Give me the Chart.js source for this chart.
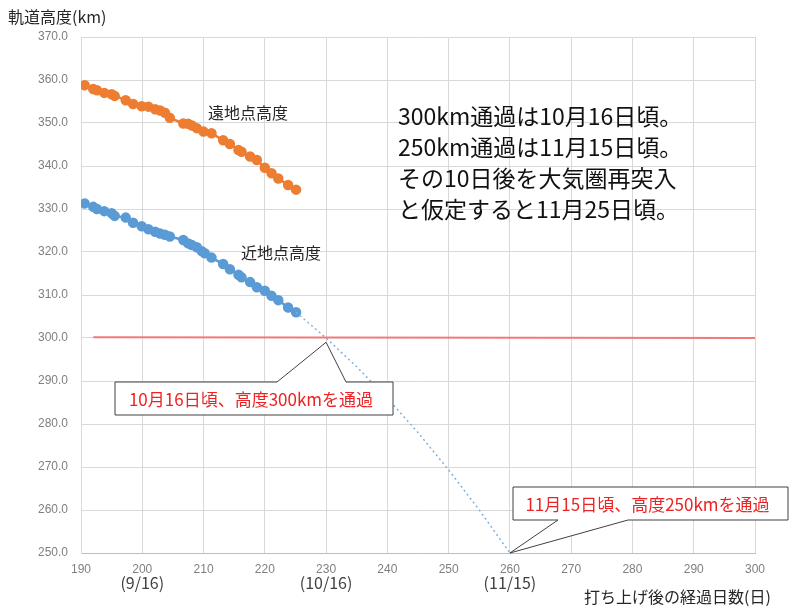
<!DOCTYPE html>
<html>
<head>
<meta charset="utf-8">
<script src="https://cdn.jsdelivr.net/npm/chart.js@4.4.0/dist/chart.umd.min.js"></script>
<style>
  html, body { margin: 0; padding: 0; background: #fff; }
</style>
</head>
<body>
<canvas id="chart" width="800" height="615"></canvas>
<script>
// 遠地点高度 (apogee)
const apogeeDays = [190.6, 192.0, 192.6, 193.8, 195.0, 195.5, 197.3, 198.5, 199.9, 201.0, 202.1, 202.9, 203.7, 204.5, 206.7, 207.5, 208.1, 208.9, 210.0, 211.3, 213.2, 214.3, 215.7, 216.2, 217.6, 218.7, 220.0, 221.1, 222.2, 223.8, 225.1]
const apogeeKm = [358.8, 357.9, 357.6, 357.0, 356.7, 356.3, 355.3, 354.4, 353.9, 353.8, 353.2, 352.9, 352.4, 351.2, 349.9, 349.8, 349.4, 348.8, 348.0, 347.6, 346.0, 345.1, 343.7, 343.3, 342.2, 341.4, 339.6, 338.3, 337.1, 335.6, 334.5]

// 近地点高度 (perigee)
const perigeeDays = [190.6, 192.0, 192.6, 193.8, 195.0, 195.5, 197.3, 198.5, 199.9, 201.0, 202.1, 202.9, 203.7, 204.5, 206.7, 207.5, 208.1, 208.9, 209.7, 210.2, 211.3, 213.2, 214.3, 215.7, 216.2, 217.6, 218.7, 220.0, 221.1, 222.2, 223.8, 225.1]
const perigeeKm = [331.3, 330.5, 330.0, 329.5, 329.0, 328.4, 328.0, 326.8, 326.0, 325.3, 324.7, 324.3, 324.0, 323.6, 322.8, 322.0, 321.6, 321.1, 320.2, 319.7, 318.7, 317.2, 316.0, 314.7, 314.1, 313.0, 311.8, 311.0, 309.8, 308.8, 307.1, 306.0]

// 近地点の予測線 (dotted)
const trendDays = [225.1, 230, 235, 240, 245, 250, 255, 260]
const trendKm = [306.0, 300.0, 293.3, 286.0, 278.0, 269.3, 260.0, 250.0]

// 300km 基準線
const refDays = [192, 300]
const refKm = [300.2, 300.0]

const xTicks = [190, 200, 210, 220, 230, 240, 250, 260, 270, 280, 290, 300]
const dateTicks = [200, 230, 260]
const dateLabels = ['(9/16)', '(10/16)', '(11/15)']

const noteLines = ['300km通過は10月16日頃。', '250km通過は11月15日頃。', 'その10日後を大気圏再突入', 'と仮定すると11月25日頃。']
const callouts = [
  { text: '10月16日頃、高度300kmを通過', day: 230, km: 299, box: [115, 382, 393, 415], base: [277, 346], side: 'top' },
  { text: '11月15日頃、高度250kmを通過', day: 260, km: 250, box: [513, 487, 788, 520], base: [558, 628], side: 'bottom' },
]

const JP = '"Noto Sans CJK JP", sans-serif'
const pts = (xs, ys) => xs.map((x, i) => ({ x, y: ys[i] }))

// 文字と吹き出し
const overlay = {
  id: 'overlay',
  afterDatasetsDraw(chart) {
    const ctx = chart.ctx
    const xs = chart.scales.x, ys = chart.scales.y
    ctx.save()

    ctx.fillStyle = '#262626'
    ctx.font = '16px ' + JP
    ctx.textBaseline = 'middle'
    ctx.textAlign = 'left'
    ctx.fillText('軌道高度(km)', 8, 17)
    ctx.fillText('打ち上げ後の経過日数(日)', 584, 597)

    ctx.font = '16px ' + JP
    ctx.fillText('遠地点高度', 208, 113)
    ctx.fillText('近地点高度', 241, 253)

    ctx.font = '23px ' + JP
    ctx.fillStyle = '#111'
    noteLines.forEach((t, i) => ctx.fillText(t, 398, 116 + i * 31))

    ctx.font = '16px ' + JP
    ctx.fillStyle = '#404040'
    ctx.textAlign = 'center'
    dateTicks.forEach((d, i) => ctx.fillText(dateLabels[i], xs.getPixelForValue(d), 583))

    callouts.forEach(c => {
      const [l, t, r, b] = c.box
      const ax = xs.getPixelForValue(c.day), ay = ys.getPixelForValue(c.km)
      ctx.beginPath()
      if (c.side === 'top') {
        ctx.moveTo(l, t); ctx.lineTo(c.base[0], t); ctx.lineTo(ax, ay); ctx.lineTo(c.base[1], t)
        ctx.lineTo(r, t); ctx.lineTo(r, b); ctx.lineTo(l, b)
      } else {
        ctx.moveTo(l, t); ctx.lineTo(r, t); ctx.lineTo(r, b); ctx.lineTo(c.base[1], b)
        ctx.lineTo(ax, ay); ctx.lineTo(c.base[0], b); ctx.lineTo(l, b)
      }
      ctx.closePath()
      ctx.fillStyle = '#fff'
      ctx.fill()
      ctx.strokeStyle = '#404040'
      ctx.lineWidth = 1
      ctx.stroke()
      ctx.fillStyle = '#ee2222'
      ctx.font = '17px ' + JP
      ctx.fillText(c.text, (l + r) / 2 - 3, (t + b) / 2 + 1)
    })
    ctx.restore()
  }
}

new Chart(document.getElementById('chart'), {
  type: 'scatter',
  data: {
    datasets: [
      { data: pts(refDays, refKm), showLine: true, borderColor: '#f07a7a', borderWidth: 2, pointRadius: 0 },
      { data: pts(trendDays, trendKm), showLine: true, borderColor: '#7fb2e0', borderWidth: 1.5, borderDash: [2, 3], pointRadius: 0 },
      { data: pts(apogeeDays, apogeeKm), showLine: true, borderColor: '#ed7d31', backgroundColor: '#ed7d31', borderWidth: 2.5, pointRadius: 4 },
      { data: pts(perigeeDays, perigeeKm), showLine: true, borderColor: '#5b9bd5', backgroundColor: '#5b9bd5', borderWidth: 2.5, pointRadius: 4 },
    ]
  },
  options: {
    responsive: false,
    animation: false,
    devicePixelRatio: 1,
    layout: { padding: { top: 37, right: 45, left: 0, bottom: 0 } },
    plugins: { legend: { display: false }, tooltip: { enabled: false } },
    scales: {
      x: {
        type: 'linear', min: 190, max: 300,
        afterBuildTicks: s => { s.ticks = xTicks.map(v => ({ value: v })) },
        afterFit: s => { s.height = 62 },
        grid: { color: '#d9d9d9', drawTicks: false },
        border: { color: '#bfbfbf' },
        ticks: { color: '#7f7f7f', padding: 9, maxRotation: 0, font: { family: 'Liberation Sans', size: 12 } }
      },
      y: {
        min: 250, max: 370,
        afterFit: s => { s.width = 81 },
        grid: { color: '#d9d9d9', drawTicks: false },
        border: { color: '#d9d9d9' },
        ticks: { stepSize: 10, color: '#7f7f7f', padding: 13, font: { family: 'Liberation Sans', size: 12 }, callback: v => v.toFixed(1) }
      }
    }
  },
  plugins: [overlay]
})
</script>
</body>
</html>
